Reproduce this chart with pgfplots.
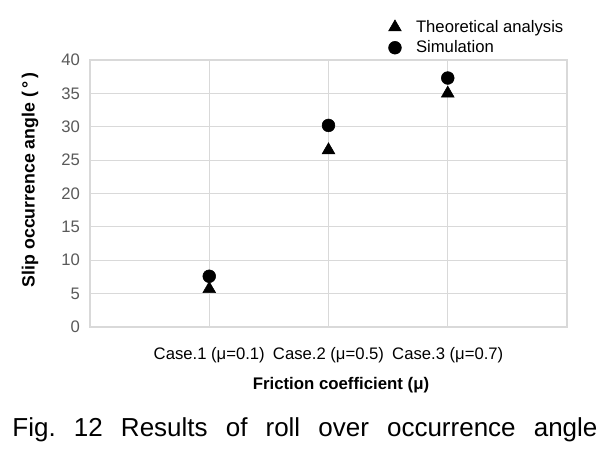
\documentclass[border=0pt]{standalone}
\usepackage{pgfplots}
\pgfplotsset{compat=1.18}
\usepackage{fontspec}
\setmainfont{Liberation Sans}
\definecolor{gridc}{HTML}{D9D9D9}
\definecolor{tickc}{HTML}{595959}
\frenchspacing
\begin{document}
\begin{tikzpicture}[x=0.75pt,y=0.75pt]
\useasboundingbox (0,0) rectangle (611,450);
\begin{axis}[
  at={(90pt*0.75,123pt*0.75)}, anchor=south west,
  scale only axis, width=357.75pt, height=200.25pt,
  xmin=0, xmax=4, ymin=0, ymax=40,
  xtick={1,2,3}, xticklabels={Case.1 (μ=0.1),Case.2 (μ=0.5),Case.3 (μ=0.7)},
  extra x ticks={0,4}, extra x tick labels={},
  extra x tick style={grid=major},
  ytick={0,5,...,40},
  grid=major, major grid style={gridc, line width=0.9pt},
  axis line style={gridc, line width=0.9pt},
  major tick length=0pt,
  tick label style={font=\fontsize{12.5}{14}\selectfont, text=tickc},
  xticklabel style={text=black, yshift=-12pt},
  yticklabel style={xshift=-4pt},
  /pgf/number format/assume math mode=true,
  legend style={at={(0.617,1.17)}, anchor=north west, draw=none, fill=none,
    font=\fontsize{12.5}{15.5}\selectfont, row sep=0.8pt, cells={anchor=west},
    /tikz/every odd column/.append style={column sep=9pt}},
  legend cell align=left,
  clip=false,
]
\addplot[only marks, mark=triangle*, mark size=5.5pt, black] coordinates {(1,5.7) (2,26.5) (3,35.0)};
\addlegendentry{Theoretical analysis}
\addplot[only marks, mark=*, mark size=4.8pt, black] coordinates {(1,7.6) (2,30.2) (3,37.3)};
\addlegendentry{Simulation}
\end{axis}
\node[rotate=90, font=\bfseries\fontsize{13.3}{15}\selectfont] at (30,270) {Slip occurrence angle (\,°\,)};
\node[anchor=base, font=\bfseries\fontsize{12.6}{14}\selectfont] at (341,60) {Friction coefficient (μ)};
\node[anchor=base, font=\fontsize{19.5}{21}\selectfont, inner sep=0pt] at (305,13) {\makebox[585\dimexpr0.75pt\relax][s]{Fig. 12 Results of roll over occurrence angle}};
\end{tikzpicture}
\end{document}
